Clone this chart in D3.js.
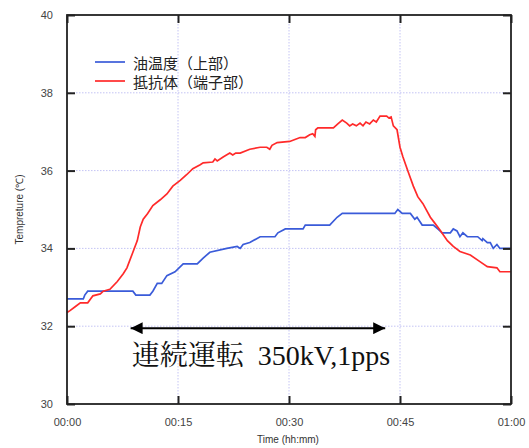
<!DOCTYPE html>
<html>
<head>
<meta charset="utf-8">
<script src="https://cdn.jsdelivr.net/npm/d3@7"></script>
<style>
  body { margin: 0; background: #fff; }
  svg { display: block; }
  .tick-label { font-family: Arial, "Liberation Sans", sans-serif; font-size: 11px; fill: #444; }
  .axis-title { font-family: Arial, "Liberation Sans", sans-serif; font-size: 10px; fill: #333; }
  .legend-text { font-family: "Noto Sans CJK JP", sans-serif; font-size: 15px; fill: #222; }
  .note { font-family: "Liberation Serif", "Noto Serif CJK JP", "Noto Sans CJK JP", serif; font-size: 28px; fill: #111; }
</style>
</head>
<body>
<svg id="chart" width="529" height="448"></svg>
<script>
// time in minutes, temperature in degC
var oilTime = [0, 2.2, 2.4, 2.8, 8.9, 9.3, 11.2, 11.6, 12.2, 12.8, 13.5, 14.6, 15.7, 17.6, 18.4, 19.3,
    21.6, 23, 23.4, 23.8, 24.7, 26.1, 28.1, 28.5, 29.5, 31.9, 32.2, 35.5, 36.5, 37.2, 44.3, 44.7, 45.3,
    46.4, 47, 47.3, 48, 49.5, 50.1, 50.7, 51.8, 52.2, 52.7, 53.1, 53.5, 54.1, 55.5, 56.1, 56.2, 56.8,
    57.2, 57.6, 58.1, 58.5, 60];
var oilTemp = [32.7, 32.7, 32.8, 32.9, 32.9, 32.8, 32.8, 32.9, 33.1, 33.1, 33.3, 33.4, 33.6, 33.6, 33.75, 33.9,
    34.0, 34.05, 34.0, 34.1, 34.15, 34.3, 34.3, 34.4, 34.5, 34.5, 34.6, 34.6, 34.8, 34.9, 34.9, 35.0, 34.9,
    34.9, 34.75, 34.8, 34.6, 34.6, 34.5, 34.4, 34.4, 34.5, 34.45, 34.3, 34.4, 34.3, 34.3, 34.2, 34.25, 34.15,
    34.15, 34.0, 34.1, 34.0, 34.0];

var resTime = [0, 0.4, 1.1, 1.8, 2.8, 3.5, 4.5, 4.9, 5.8, 6.8, 7.6, 8.1, 8.8, 9.5, 9.9, 10.3, 10.9, 11.6,
    12.6, 13.5, 14.3, 15.3, 16.2, 17, 18, 18.4, 19.7, 20, 20.3, 21.1, 22, 22.4, 22.8, 23.4, 24.7, 26.1,
    27, 27.4, 27.7, 28.4, 30.1, 30.8, 31.5, 32.2, 32.8, 33.2, 33.5, 33.6, 33.9, 36, 36.6, 37.2, 37.8,
    38.2, 38.6, 39.1, 39.6, 40, 40.4, 40.9, 41.4, 41.8, 42.3, 43.2, 43.5, 43.8, 44.1, 44.6, 45, 45.4,
    46.1, 46.8, 47.4, 48.1, 49.1, 49.7, 50.4, 51.4, 52.2, 53.1, 54.5, 55.8, 56.8, 58.1, 58.5, 60];
var resTemp = [32.35, 32.4, 32.5, 32.6, 32.6, 32.78, 32.83, 32.9, 32.95, 33.15, 33.35, 33.5, 33.85, 34.2, 34.55, 34.75, 34.9, 35.1,
    35.25, 35.4, 35.6, 35.75, 35.9, 36.05, 36.15, 36.2, 36.22, 36.3, 36.25, 36.35, 36.45, 36.4, 36.45, 36.45, 36.55, 36.6,
    36.6, 36.55, 36.65, 36.72, 36.75, 36.8, 36.85, 36.85, 36.92, 36.95, 36.88, 37.05, 37.1, 37.1, 37.2, 37.3, 37.22,
    37.15, 37.2, 37.15, 37.22, 37.15, 37.25, 37.2, 37.3, 37.25, 37.4, 37.4, 37.35, 37.38, 37.15, 37.05, 36.6, 36.35,
    35.97, 35.6, 35.33, 35.15, 34.8, 34.65, 34.47, 34.2, 34.05, 33.92, 33.83, 33.66, 33.53, 33.5, 33.4, 33.4];

var seriesNames = ["油温度（上部）", "抵抗体（端子部）"];
var seriesColors = ["#3a5bd9", "#ff2a2a"];

var xTicks = [0, 15, 30, 45, 60];
var yTicks = [30, 32, 34, 36, 38, 40];

var noteText = "連続運転  350kV,1pps";
var arrowSpan = [8.6, 43.0];   // minutes
var arrowTemp = 31.95;

var svg = d3.select("#chart");
var margin = { left: 67, top: 15, right: 18, bottom: 44 };
var width = 529 - margin.left - margin.right;
var height = 448 - margin.top - margin.bottom;

var x = d3.scaleLinear().domain([0, 60]).range([0, width]);
var y = d3.scaleLinear().domain([30, 40]).range([height, 0]);

var g = svg.append("g").attr("transform", "translate(" + margin.left + "," + margin.top + ")");

function fmtTime(m) {
    var h = Math.floor(m / 60), mm = m % 60;
    return d3.format("02d")(h) + ":" + d3.format("02d")(mm);
}

// dotted grid
var innerX = xTicks.filter(function (d) { return d > 0 && d < 60; });
var innerY = yTicks.filter(function (d) { return d > 30 && d < 40; });

g.append("g").selectAll("line").data(innerX).join("line")
    .attr("x1", function (d) { return x(d); }).attr("x2", function (d) { return x(d); })
    .attr("y1", 0).attr("y2", height)
    .attr("stroke", "#c4c4f4").attr("stroke-width", 1).attr("stroke-dasharray", "1.5,1.5");

g.append("g").selectAll("line").data(innerY).join("line")
    .attr("y1", function (d) { return y(d); }).attr("y2", function (d) { return y(d); })
    .attr("x1", 0).attr("x2", width)
    .attr("stroke", "#c4c4f4").attr("stroke-width", 1).attr("stroke-dasharray", "1.5,1.5");

// series
var line = d3.line()
    .x(function (d) { return x(d[0]); })
    .y(function (d) { return y(d[1]); });

var oil = d3.zip(oilTime, oilTemp);
var res = d3.zip(resTime, resTemp);

g.append("path").datum(oil).attr("d", line)
    .attr("fill", "none").attr("stroke", seriesColors[0]).attr("stroke-width", 1.7);
g.append("path").datum(res).attr("d", line)
    .attr("fill", "none").attr("stroke", seriesColors[1]).attr("stroke-width", 1.7);

// axes with inward ticks
var tickLen = 8;
var axisBottom = d3.axisBottom(x).tickValues(xTicks).tickSize(-tickLen).tickFormat(fmtTime).tickPadding(14);
var axisTop = d3.axisTop(x).tickValues(xTicks).tickSize(-tickLen).tickFormat("");
var axisLeft = d3.axisLeft(y).tickValues(yTicks).tickSize(-tickLen).tickFormat(d3.format("d")).tickPadding(14);
var axisRight = d3.axisRight(y).tickValues(yTicks).tickSize(-tickLen).tickFormat("");

function styleAxis(sel) {
    sel.select(".domain").remove();
    sel.selectAll(".tick line").attr("stroke", "#222").attr("stroke-width", 2);
    sel.selectAll(".tick text").attr("class", "tick-label");
}

g.append("g").attr("transform", "translate(0," + height + ")").call(axisBottom).call(styleAxis);
g.append("g").call(axisTop).call(styleAxis);
g.append("g").call(axisLeft).call(styleAxis);
g.append("g").attr("transform", "translate(" + width + ",0)").call(axisRight).call(styleAxis);

// frame
g.append("rect").attr("x", 0).attr("y", 0).attr("width", width).attr("height", height)
    .attr("fill", "none").attr("stroke", "#222").attr("stroke-width", 1.8);

// axis titles
svg.append("text").attr("class", "axis-title")
    .attr("x", margin.left + width / 2 - 1).attr("y", 443)
    .attr("text-anchor", "middle").text("Time (hh:mm)");
svg.append("text").attr("class", "axis-title")
    .attr("transform", "translate(23," + (margin.top + height / 2) + ") rotate(-90)")
    .attr("text-anchor", "middle").text("Tempreture (℃)");

// legend
var legend = g.append("g").attr("transform", "translate(28,47)");
seriesNames.forEach(function (name, i) {
    var row = legend.append("g").attr("transform", "translate(0," + (i * 19) + ")");
    row.append("line").attr("x1", 0).attr("x2", 30).attr("y1", 0).attr("y2", 0)
        .attr("stroke", seriesColors[i]).attr("stroke-width", 1.7);
    row.append("text").attr("class", "legend-text").attr("x", 38).attr("y", 0)
        .attr("dominant-baseline", "central").text(name);
});

// annotation arrow
var defs = svg.append("defs");
["start", "end"].forEach(function (k) {
    defs.append("marker").attr("id", "arrow-" + k)
        .attr("viewBox", "0 0 10 10").attr("refX", 10).attr("refY", 5)
        .attr("markerWidth", 7).attr("markerHeight", 6).attr("markerUnits", "strokeWidth")
        .attr("orient", k === "end" ? "auto" : "auto-start-reverse")
        .append("path").attr("d", "M0,0L10,5L0,10Z").attr("fill", "#000");
});

g.append("line")
    .attr("x1", x(arrowSpan[0])).attr("x2", x(arrowSpan[1]))
    .attr("y1", y(arrowTemp)).attr("y2", y(arrowTemp))
    .attr("stroke", "#000").attr("stroke-width", 2)
    .attr("marker-start", "url(#arrow-start)").attr("marker-end", "url(#arrow-end)");

g.append("text").attr("class", "note")
    .attr("x", x(arrowSpan[0]) + 1).attr("y", y(arrowTemp) + 37)
    .attr("xml:space", "preserve").style("white-space", "pre")
    .text(noteText);
</script>
</body>
</html>
